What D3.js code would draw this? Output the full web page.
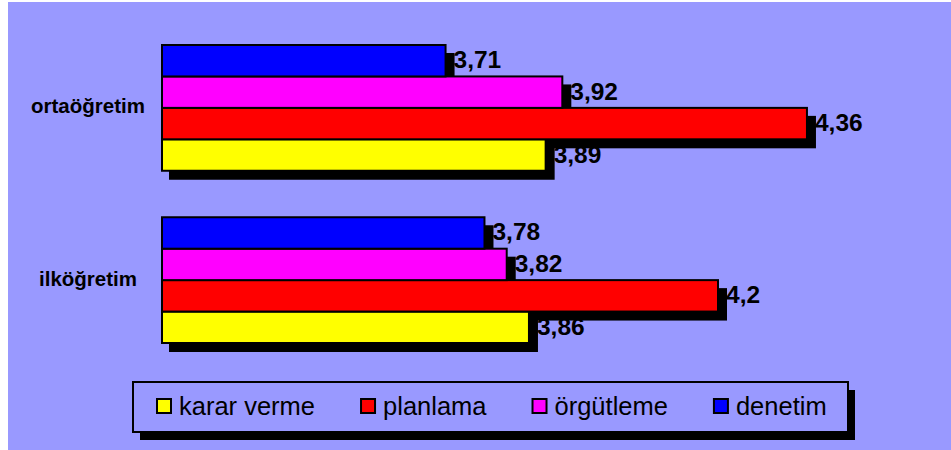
<!DOCTYPE html>
<html>
<head>
<meta charset="utf-8">
<script src="https://cdn.jsdelivr.net/npm/d3@7"></script>
<style>
  html, body { margin: 0; padding: 0; background: #ffffff; }
  svg { display: block; }
  text { font-family: "Liberation Sans", Arial, Helvetica, sans-serif; fill: #000; }
</style>
</head>
<body>
<svg id="chart" width="951" height="450"></svg>
<script>
// Schools (top to bottom) and the four management functions
const categories = ["ortaöğretim", "ilköğretim"];
const seriesNames = ["karar verme", "planlama", "örgütleme", "denetim"];
const seriesColors = ["#FFFF00", "#FF0000", "#FF00FF", "#0000FF"];

// Mean scores per series, in category order
const kararVerme = [3.89, 3.86];
const planlama   = [4.36, 4.2];
const orgutleme  = [3.92, 3.82];
const denetim    = [3.71, 3.78];
const seriesValues = [kararVerme, planlama, orgutleme, denetim];

const axisMin = 3.2, axisMax = 4.5;

const svg = d3.select("#chart");
const W = 951, H = 450;

// chart area background
svg.append("rect")
  .attr("x", 8).attr("y", 2)
  .attr("width", W - 8).attr("height", H - 2)
  .attr("fill", "#9999FF");

const x = d3.scaleLinear().domain([axisMin, axisMax]).range([162, 162 + 1.3 * 556]);

const y = d3.scaleBand()
  .domain(categories)
  .range([21.75, 366.25])
  .paddingInner(0.27)
  .paddingOuter(0.135);

// last series drawn on top within each group
const yInner = d3.scaleBand()
  .domain(seriesNames.slice().reverse())
  .range([0, y.bandwidth()]);

const bars = [];
categories.forEach((c, ci) => {
  seriesNames.forEach((s, si) => {
    bars.push({ cat: c, series: s, color: seriesColors[si], value: seriesValues[si][ci] });
  });
});

const shadow = 8;
const plot = svg.append("g");

// drop shadows behind all bars
plot.selectAll("rect.shadow")
  .data(bars)
  .join("rect")
  .attr("class", "shadow")
  .attr("x", d => x(axisMin) + shadow - 1)
  .attr("y", d => y(d.cat) + yInner(d.series) + shadow)
  .attr("width", d => x(d.value) - x(axisMin) + 2)
  .attr("height", yInner.bandwidth() + 1)
  .attr("fill", "#000");

plot.selectAll("rect.bar")
  .data(bars)
  .join("rect")
  .attr("class", "bar")
  .attr("x", x(axisMin))
  .attr("y", d => y(d.cat) + yInner(d.series))
  .attr("width", d => x(d.value) - x(axisMin))
  .attr("height", yInner.bandwidth())
  .attr("fill", d => d.color)
  .attr("stroke", "#000")
  .attr("stroke-width", 2);

// value labels
plot.selectAll("text.val")
  .data(bars)
  .join("text")
  .attr("class", "val")
  .attr("x", d => x(d.value) + 8)
  .attr("y", d => y(d.cat) + yInner(d.series) + yInner.bandwidth() / 2 + 7.5)
  .attr("font-size", 24.5)
  .attr("font-weight", "bold")
  .text(d => String(d.value).replace(".", ","));

// category labels
svg.selectAll("text.cat")
  .data(categories)
  .join("text")
  .attr("class", "cat")
  .attr("x", 88)
  .attr("y", d => y(d) + y.bandwidth() / 2 + 5.5)
  .attr("text-anchor", "middle")
  .attr("font-size", 20.5)
  .attr("font-weight", "bold")
  .text(d => d);

// legend
const lg = { x: 133, y: 382, w: 715, h: 50 };
svg.append("rect")
  .attr("x", lg.x + 7).attr("y", lg.y + 8)
  .attr("width", lg.w).attr("height", lg.h)
  .attr("fill", "#000");
svg.append("rect")
  .attr("x", lg.x).attr("y", lg.y)
  .attr("width", lg.w).attr("height", lg.h)
  .attr("fill", "#9999FF")
  .attr("stroke", "#000")
  .attr("stroke-width", 2);

let cx = 156;
const midY = lg.y + lg.h / 2;
seriesNames.forEach((s, i) => {
  svg.append("rect")
    .attr("x", cx + 1).attr("y", midY - 8)
    .attr("width", 14).attr("height", 14)
    .attr("fill", seriesColors[i])
    .attr("stroke", "#000")
    .attr("stroke-width", 2);
  const t = svg.append("text")
    .attr("x", cx + 23)
    .attr("y", midY + 7.5)
    .attr("font-size", 25.5)
    .text(s);
  cx = cx + 23 + t.node().getComputedTextLength() + 45;
});
</script>
</body>
</html>
